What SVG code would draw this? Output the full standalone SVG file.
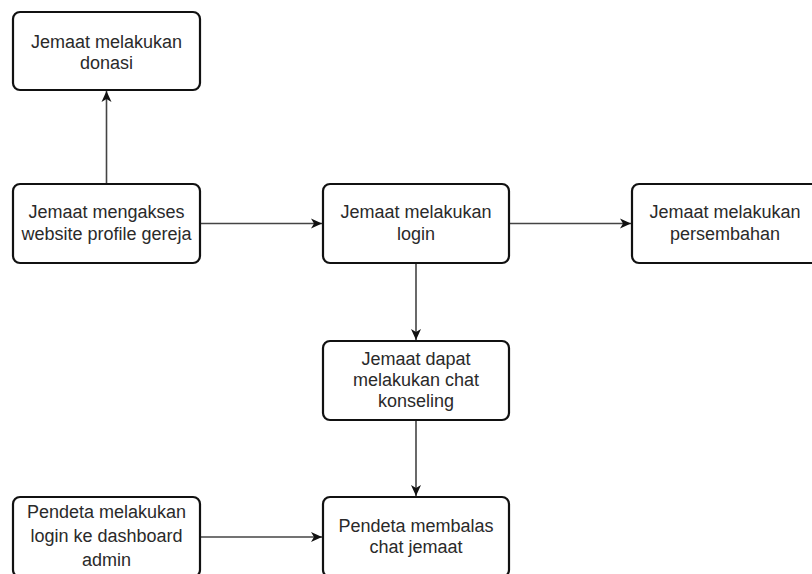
<svg xmlns="http://www.w3.org/2000/svg" width="812" height="574" viewBox="0 0 812 574">
<style>
.box{fill:#fff;stroke:#111;stroke-width:2.2}
.lbl{font-family:"Liberation Sans",Arial,sans-serif;font-size:18px;fill:#2a2a2a;text-anchor:middle}
.edge{fill:none;stroke:#444;stroke-width:1.6}
</style>
<defs>
<marker id="arr" viewBox="0 0 12 12" refX="11" refY="6" markerWidth="12" markerHeight="12" markerUnits="userSpaceOnUse" orient="auto">
<path d="M0,1 L11,6 L0,11 L3,6 z" fill="#111"/>
</marker>
</defs>
<rect width="812" height="574" fill="#fff"/>
<g id="connectors">
<line class="edge" x1="106.5" y1="184" x2="106.5" y2="91" marker-end="url(#arr)"/>
<line class="edge" x1="200" y1="223.5" x2="322" y2="223.5" marker-end="url(#arr)"/>
<line class="edge" x1="509" y1="223.5" x2="631" y2="223.5" marker-end="url(#arr)"/>
<line class="edge" x1="416" y1="263" x2="416" y2="340" marker-end="url(#arr)"/>
<line class="edge" x1="416" y1="420" x2="416" y2="496" marker-end="url(#arr)"/>
<line class="edge" x1="200" y1="537" x2="322" y2="537" marker-end="url(#arr)"/>
</g>
<g id="n-donasi">
<rect class="box" x="13" y="12" width="187" height="78" rx="7"/>
<text class="lbl" x="106.5" y="48">Jemaat melakukan</text>
<text class="lbl" x="106.5" y="69">donasi</text>
</g>
<g id="n-akses">
<rect class="box" x="13" y="184" width="187" height="79" rx="7"/>
<text class="lbl" x="106.5" y="218">Jemaat mengakses</text>
<text class="lbl" x="106.5" y="240">website profile gereja</text>
</g>
<g id="n-login">
<rect class="box" x="323" y="184" width="186" height="79" rx="7"/>
<text class="lbl" x="416" y="218">Jemaat melakukan</text>
<text class="lbl" x="416" y="240">login</text>
</g>
<g id="n-persembahan">
<rect class="box" x="632" y="184" width="187" height="79" rx="7"/>
<text class="lbl" x="725" y="218">Jemaat melakukan</text>
<text class="lbl" x="725" y="240">persembahan</text>
</g>
<g id="n-chat">
<rect class="box" x="323" y="341" width="186" height="79" rx="7"/>
<text class="lbl" x="416" y="365">Jemaat dapat</text>
<text class="lbl" x="416" y="386">melakukan chat</text>
<text class="lbl" x="416" y="407">konseling</text>
</g>
<g id="n-pendeta-login">
<rect class="box" x="13" y="497" width="187" height="80" rx="7"/>
<text class="lbl" x="106.5" y="518">Pendeta melakukan</text>
<text class="lbl" x="106.5" y="542">login ke dashboard</text>
<text class="lbl" x="106.5" y="566">admin</text>
</g>
<g id="n-balas">
<rect class="box" x="323" y="497" width="186" height="80" rx="7"/>
<text class="lbl" x="416" y="532">Pendeta membalas</text>
<text class="lbl" x="416" y="553">chat jemaat</text>
</g>
</svg>
